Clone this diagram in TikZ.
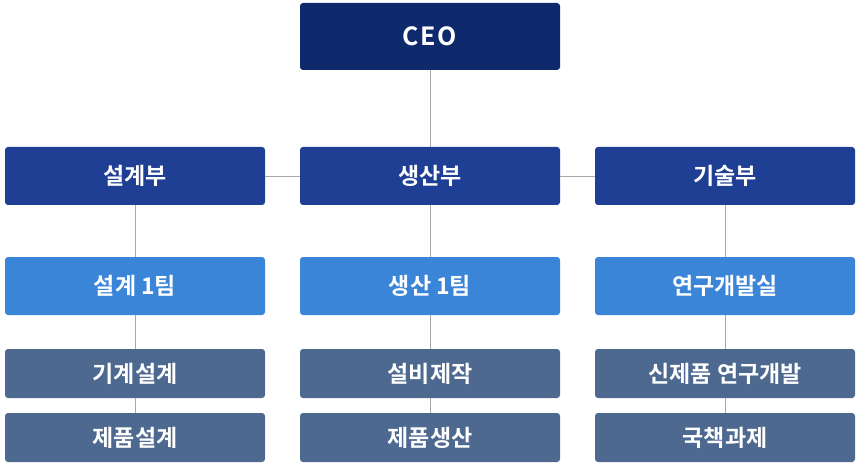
\documentclass[tikz,border=0pt]{standalone}
\usepackage{fontspec}
\setmainfont{Noto Sans CJK KR}[BoldFont={* Bold}]
\definecolor{ceoc}{HTML}{0E2A6C}
\definecolor{depc}{HTML}{1F3F94}
\definecolor{teamc}{HTML}{3A85D8}
\definecolor{subc}{HTML}{4E6990}
\definecolor{linec}{HTML}{A8A8A8}
\begin{document}
\begin{tikzpicture}[x=1pt,y=-1pt,
 box/.style={rounded corners=3pt,text=white,font=\fontsize{23}{26}\selectfont\bfseries,minimum width=260pt,inner sep=0pt},
 conn/.style={draw=linec,line width=0.8pt}]
\useasboundingbox (0,0) rectangle (860,476);
\node[box,fill=ceoc,minimum height=67pt,font=\fontsize{25}{28}\selectfont\bfseries] (ceo) at (430,36.5) {C\kern1.5pt E\kern1.5pt O};
\node[box,fill=depc,minimum height=58pt] (d1) at (135,176) {설계부};
\node[box,fill=depc,minimum height=58pt] (d2) at (430,176) {생산부};
\node[box,fill=depc,minimum height=58pt] (d3) at (725,176) {기술부};
\node[box,fill=teamc,minimum height=58pt] (t1) at (135,286) {설계 1팀};
\node[box,fill=teamc,minimum height=58pt] (t2) at (430,286) {생산 1팀};
\node[box,fill=teamc,minimum height=58pt] (t3) at (725,286) {연구개발실};
\node[box,fill=subc,minimum height=49pt] (a1) at (135,373.5) {기계설계};
\node[box,fill=subc,minimum height=49pt] (a2) at (430,373.5) {설비제작};
\node[box,fill=subc,minimum height=49pt] (a3) at (725,373.5) {신제품 연구개발};
\node[box,fill=subc,minimum height=49pt] (b1) at (135,437.5) {제품설계};
\node[box,fill=subc,minimum height=49pt] (b2) at (430,437.5) {제품생산};
\node[box,fill=subc,minimum height=49pt] (b3) at (725,437.5) {국책과제};
\draw[conn] (ceo) -- (d2);
\draw[conn] (d1) -- (d2);
\draw[conn] (d2) -- (d3);
\foreach \i in {1,2,3}{
 \draw[conn] (d\i) -- (t\i);
 \draw[conn] (t\i) -- (a\i);
 \draw[conn] (a\i) -- (b\i);
}
\end{tikzpicture}
\end{document}
